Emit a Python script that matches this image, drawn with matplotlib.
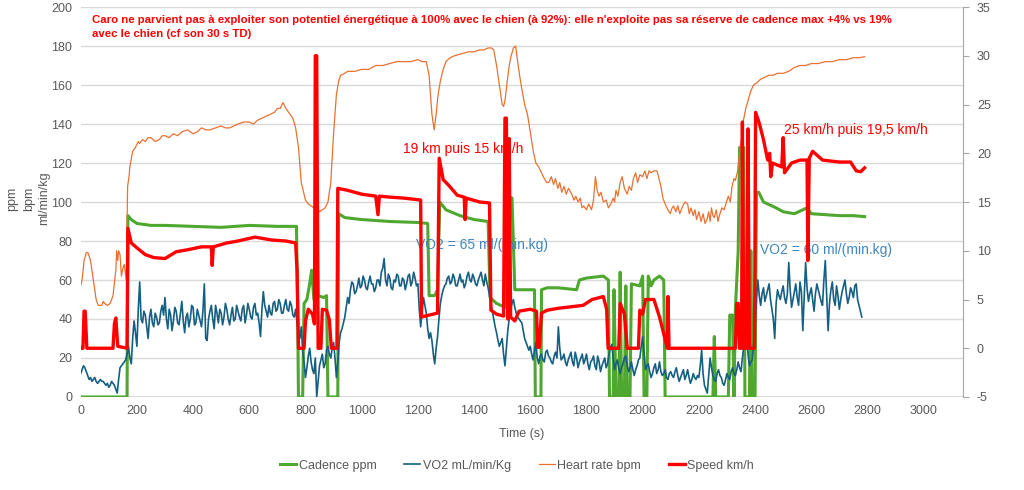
import numpy as np
import matplotlib
matplotlib.use("Agg")
import matplotlib.pyplot as plt

plt.rcParams['font.family'] = ['Liberation Sans', 'DejaVu Sans']
plt.rcParams['axes.unicode_minus'] = False

# Cadence ppm (time s, value)
cad_t = [0, 165, 168, 180, 200, 250, 300, 400, 500, 600, 700, 768, 772, 775, 790, 795, 805, 815, 822, 830, 838,
         840, 845, 865, 875, 880, 915, 918, 940, 1000, 1100, 1200, 1235, 1240, 1260, 1270, 1278, 1300, 1350,
         1400, 1450, 1457, 1480, 1510, 1517, 1525, 1535, 1545, 1565, 1600, 1615, 1618, 1638, 1640, 1660, 1700,
         1765, 1775, 1800, 1860, 1878, 1882, 1895, 1898, 1905, 1915, 1920, 1925, 1935, 1940, 1945, 1955, 1960,
         1990, 2000, 2005, 2015, 2020, 2030, 2040, 2060, 2075, 2080, 2250, 2255, 2260, 2305, 2310, 2320, 2325,
         2330, 2340, 2345, 2360, 2364, 2380, 2385, 2390, 2400, 2405, 2413, 2430, 2475, 2500, 2540, 2585, 2600,
         2650, 2700, 2750, 2790]
cad_v = [0, 0, 93, 91, 89, 88, 88, 87.5, 87, 88, 87.5, 87.5, 48, 0, 0, 48, 50, 58, 65, 50, 50,
         100, 52, 51, 52, 0, 0, 94, 92, 91, 90, 89.5, 89, 52, 52, 55, 100, 96, 93,
         91, 90, 51, 48, 46, 110, 103, 102, 55, 55, 55, 55, 0, 0, 55, 56, 56,
         55, 60, 61, 62, 60, 0, 0, 55, 0, 0, 64, 0, 0, 57, 0, 0, 58,
         57, 62, 0, 0, 62, 57, 60, 62, 60, 0, 0, 31, 0, 0, 42, 42, 0,
         45, 75, 128, 128, 0, 0, 75, 0, 0, 105, 105, 100, 97, 95, 94, 97, 94,
         93.5, 93, 93, 92.5]

# VO2 mL/min/Kg, one value every 5 s from 0 to 2780 s (one row = 100 s)
vo2_v = [12, 14, 16, 15, 13, 11, 9, 10, 8, 9, 10, 8, 7, 8, 9, 8, 8, 7, 6, 7,
         5, 6, 8, 7, 6, 4, 2, 9, 15, 16, 17, 18, 19, 22, 26, 20, 17, 30, 39, 33,
         26, 45, 59, 40, 38, 44, 42, 36, 30, 41, 45, 38, 36, 43, 41, 37, 38, 44, 47, 42,
         51, 40, 35, 45, 42, 34, 39, 46, 44, 38, 37, 43, 49, 39, 33, 41, 43, 36, 40, 47,
         46, 37, 38, 45, 42, 39, 36, 44, 58, 30, 29, 40, 44, 47, 40, 35, 47, 43, 38, 45,
         43, 37, 41, 48, 45, 40, 37, 42, 46, 39, 40, 47, 44, 41, 39, 45, 47, 38, 42, 48,
         45, 41, 40, 46, 48, 42, 43, 38, 31, 45, 54, 47, 44, 41, 47, 43, 42, 48, 49, 44,
         45, 50, 48, 43, 43, 47, 50, 45, 44, 49, 47, 42, 41, 45, 38, 32, 30, 36, 24, 18,
         10, 15, 21, 25, 18, 14, 12, 20, 0, 8, 16, 19, 22, 15, 17, 24, 26, 22, 20, 25,
         28, 20, 10, 18, 28, 33, 35, 38, 41, 46, 51, 48, 55, 59, 58, 53, 54, 57, 61, 56,
         57, 62, 60, 56, 55, 59, 62, 58, 58, 54, 56, 60, 60, 57, 64, 66, 71, 60, 57, 63,
         61, 56, 55, 60, 59, 63, 62, 57, 57, 61, 60, 55, 58, 62, 63, 57, 59, 64, 61, 57,
         58, 45, 36, 44, 51, 47, 43, 35, 30, 33, 29, 22, 17, 25, 31, 40, 48, 52, 55, 57,
         58, 61, 62, 58, 59, 63, 61, 57, 57, 60, 63, 59, 60, 56, 58, 62, 64, 60, 59, 63,
         61, 58, 57, 60, 62, 64, 60, 57, 63, 59, 56, 52, 48, 44, 40, 36, 33, 29, 26, 28,
         30, 22, 16, 25, 34, 40, 44, 48, 50, 46, 43, 41, 40, 39, 38, 34, 30, 28, 26, 24,
         26, 22, 19, 24, 28, 20, 17, 21, 22, 19, 18, 23, 24, 21, 20, 18, 17, 21, 23, 20,
         36, 25, 19, 20, 22, 18, 16, 19, 21, 23, 18, 16, 23, 20, 15, 18, 20, 22, 17, 19,
         22, 17, 14, 18, 19, 21, 16, 14, 21, 18, 13, 16, 18, 20, 15, 17, 22, 25, 27, 20,
         14, 17, 19, 15, 12, 15, 17, 20, 21, 16, 13, 15, 18, 14, 11, 14, 16, 19, 20, 26,
         31, 22, 14, 16, 17, 13, 10, 12, 15, 17, 12, 14, 18, 13, 11, 12, 14, 10, 9, 12,
         13, 11, 10, 13, 15, 11, 8, 10, 12, 14, 9, 11, 14, 10, 7, 9, 12, 10, 9, 11,
         10, 16, 24, 12, 6, 4, 2, 11, 20, 15, 11, 9, 8, 12, 14, 11, 10, 7, 6, 9,
         12, 10, 9, 13, 15, 12, 11, 14, 18, 15, 13, 20, 26, 28, 31, 22, 16, 18, 19, 27,
         35, 50, 60, 52, 47, 53, 56, 49, 52, 55, 58, 50, 45, 40, 30, 48, 55, 52, 50, 54,
         57, 51, 48, 53, 69, 55, 46, 50, 54, 58, 51, 47, 59, 54, 34, 52, 69, 56, 49, 53,
         56, 50, 44, 53, 58, 55, 52, 49, 47, 60, 70, 52, 34, 48, 55, 59, 50, 47, 57, 52,
         45, 50, 54, 57, 60, 53, 48, 51, 56, 54, 51, 57, 58, 50, 47, 44, 41]
vo2_t = np.arange(len(vo2_v)) * 5

# Heart rate bpm (time s, value)
hr_t = [0, 5, 12, 20, 26, 35, 45, 55, 62, 75, 80, 85, 95, 105, 115, 125, 128, 132, 135, 140, 145, 150, 155,
        162, 167, 172, 175, 180, 185, 195, 205, 210, 220, 230, 240, 250, 265, 280, 290, 300, 315, 330, 345,
        360, 380, 400, 415, 430, 445, 460, 480, 500, 515, 530, 545, 560, 580, 600, 615, 630, 645, 660, 675,
        690, 700, 710, 720, 730, 740, 755, 765, 775, 785, 800, 810, 820, 830, 840, 850, 860, 870, 880, 890,
        900, 910, 918, 925, 940, 950, 975, 1000, 1025, 1050, 1075, 1100, 1125, 1150, 1175, 1200, 1215, 1230,
        1240, 1250, 1258, 1265, 1272, 1280, 1290, 1300, 1315, 1330, 1355, 1380, 1400, 1420, 1435, 1450, 1462,
        1470, 1480, 1490, 1500, 1505, 1510, 1518, 1525, 1532, 1540, 1548, 1555, 1562, 1570, 1580, 1590, 1600,
        1612, 1620, 1630, 1640, 1650, 1658, 1666, 1675, 1683, 1690, 1698, 1705, 1712, 1720, 1728, 1736, 1748,
        1755, 1762, 1770, 1778, 1784, 1790, 1800, 1808, 1818, 1825, 1832, 1838, 1845, 1852, 1860, 1870, 1878,
        1887, 1895, 1900, 1905, 1912, 1920, 1927, 1935, 1945, 1952, 1960, 1967, 1975, 1982, 1990, 2000, 2008,
        2015, 2023, 2030, 2040, 2051, 2058, 2065, 2072, 2080, 2090, 2098, 2105, 2110, 2118, 2125, 2132, 2140,
        2150, 2160, 2166, 2172, 2180, 2186, 2192, 2200, 2208, 2215, 2222, 2229, 2235, 2240, 2245, 2250, 2255,
        2262, 2268, 2275, 2282, 2290, 2296, 2305, 2312, 2318, 2325, 2330, 2338, 2345, 2352, 2359, 2367, 2375,
        2385, 2395, 2405, 2420, 2435, 2450, 2465, 2480, 2500, 2520, 2540, 2560, 2580, 2600, 2625, 2650, 2675,
        2700, 2725, 2750, 2770, 2790]
hr_v = [57, 60, 70, 74, 74, 70, 60, 50, 47, 47, 49, 48, 47, 48, 52, 65, 75, 70, 75, 73, 62, 66, 68,
        60, 108, 113, 118, 122, 126, 128, 131, 130, 132, 131, 133, 133, 131, 132, 134, 134, 133, 135, 134,
        136, 137, 135, 136, 138, 137, 137, 138, 139, 138, 138, 139, 140, 141, 141, 140, 142, 143, 144, 145,
        146, 148, 148, 151, 148, 146, 143, 138, 128, 110, 101, 99, 98, 97, 97, 95, 96, 97, 100, 110,
        135, 155, 162, 165, 166, 167, 167, 168, 168, 170, 170, 171, 172, 172, 172, 173, 172, 172,
        165, 145, 137, 145, 155, 162, 168, 172, 174, 175, 176, 177, 177, 178, 178, 179, 179,
        178, 170, 160, 150, 149, 152, 162, 170, 175, 179, 180, 172, 165, 158, 150, 145, 136,
        125, 120, 118, 115, 112, 110, 110, 113, 109, 112, 107, 110, 105, 108, 104, 107, 104,
        101, 103, 100, 102, 97, 98, 96, 99, 96, 101, 113, 106, 103, 105, 100, 101, 97,
        99, 102, 100, 106, 103, 110, 113, 107, 104, 108, 106, 112, 115, 110, 114, 113, 116,
        112, 116, 115, 116, 116, 112, 108, 102, 99, 96, 94, 97, 98, 95, 98, 94, 97,
        100, 99, 94, 97, 93, 96, 91, 95, 90, 94, 89, 91, 95, 90, 97, 93, 92,
        96, 90, 94, 97, 96, 99, 103, 100, 108, 112, 111, 116, 125, 133, 142, 148, 152,
        157, 160, 161, 163, 164, 165, 165, 166, 166, 167, 169, 170, 170, 171, 171, 172, 172,
        173, 173, 174, 174, 174.5]

# Speed km/h (time s, value), right axis
spd_t = [0, 8, 12, 16, 22, 115, 120, 125, 132, 165, 168, 180, 200, 230, 260, 300, 340, 380, 430, 465, 468,
         472, 520, 560, 620, 680, 730, 765, 770, 775, 795, 800, 810, 825, 832, 835, 840, 845, 855, 860, 875,
         885, 892, 912, 915, 950, 1000, 1050, 1058, 1063, 1100, 1150, 1210, 1213, 1240, 1270, 1276, 1290,
         1310, 1340, 1365, 1368, 1372, 1420, 1455, 1460, 1480, 1505, 1510, 1515, 1520, 1525, 1530, 1545,
         1560, 1600, 1622, 1627, 1632, 1640, 1660, 1700, 1788, 1820, 1860, 1872, 1877, 1915, 1920, 1935,
         1945, 1985, 1990, 2000, 2010, 2040, 2060, 2088, 2090, 2094, 2330, 2335, 2340, 2345, 2352, 2355,
         2360, 2370, 2375, 2380, 2398, 2402, 2415, 2430, 2445, 2452, 2456, 2462, 2495, 2500, 2505, 2530,
         2560, 2585, 2588, 2593, 2605, 2640, 2700, 2740, 2760, 2776, 2790]
spd_v = [0, 0, 3.8, 3.8, 0, 0, 2.5, 3.1, 0.2, 0, 12.3, 10.8, 10.3, 9.6, 9.3, 9.2, 9.9, 10.1, 10.4, 10.4, 8.5,
         10.4, 10.8, 11, 11.4, 11.1, 11, 10.8, 8, 0, 0, 2.8, 4, 3.5, 2.5, 30, 30, 0, 0, 4, 3.9,
         2.9, 0, 0, 16.4, 16.2, 15.8, 15.6, 13.7, 15.6, 15.5, 15.4, 15.2, 3.2, 3.4, 3.6, 19.5, 17.3,
         16.7, 15.7, 15.5, 13.2, 15.4, 15.0, 14.9, 3.9, 3.5, 3.3, 23.6, 23.6, 3, 21.5, 3.2, 2.8,
         3.8, 4, 3.8, 0.1, 0.1, 3.6, 3.9, 4.1, 4.4, 5, 5.3, 4, 0, 0, 4.6, 3.5,
         0, 0, 3.9, 3.5, 5, 5, 3.2, 0, 5.3, 0, 0, 4.6, 4.6, 0, 0, 23.2,
         0, 0, 22.5, 0, 0, 24.2, 23.1, 21.4, 19.3, 20, 17.6, 19, 18.6, 21.6, 18, 19,
         19.3, 19.3, 9, 19.5, 20.2, 19.3, 19.1, 19.1, 18.2, 18.1, 18.5]

title_txt = ("Caro ne parvient pas à exploiter son potentiel énergétique à 100% avec le chien (à 92%): "
             "elle n'exploite pas sa réserve de cadence max +4% vs 19%\navec le chien (cf son 30 s TD)")

grey = "#595959"
fig = plt.figure(figsize=(10.24, 4.9), dpi=100)
ax = fig.add_axes([0.0788, 0.1898, 0.8616, 0.7959])
ax2 = ax.twinx()

l1, = ax.plot(cad_t, cad_v, color="#4ea72e", lw=2.2, label="Cadence ppm")
l2, = ax.plot(vo2_t, vo2_v, color="#156082", lw=1.2, label="VO2 mL/min/Kg")
l3, = ax.plot(hr_t, hr_v, color="#e97132", lw=0.9, label="Heart rate bpm")
l4, = ax2.plot(spd_t, spd_v, color="#ff0000", lw=2.4, label="Speed km/h")

ax.set_xlim(0, 3140)
ax.set_ylim(0, 200)
ax2.set_ylim(-5, 35)
ax.set_xticks(np.arange(0, 3001, 200))
ax.set_yticks(np.arange(0, 201, 20))
ax2.set_yticks(np.arange(-5, 36, 5))
ax.grid(axis="y", color="#d9d9d9", lw=1)
ax.set_axisbelow(True)
for s in ["top", "left", "right", "bottom"]:
    ax.spines[s].set_visible(False)
    ax2.spines[s].set_visible(False)
ax2.spines["right"].set_visible(True)
ax2.spines["right"].set_color("#a6a6a6")
ax.tick_params(axis="both", length=0, labelsize=9, colors=grey, pad=6)
ax2.tick_params(axis="y", length=4, color="#a6a6a6", labelsize=9, labelcolor=grey, pad=6)
ax.axhline(0, color="#d9d9d9", lw=1.5, zorder=0)

ax.set_xlabel("Time (s)", fontsize=9, color=grey, labelpad=8)
for xp, lab in [(0.012, "ppm"), (0.028, "bpm"), (0.043, "ml/min/kg")]:
    fig.text(xp, 0.595, lab, rotation=90, ha="center", va="center", fontsize=9, color=grey)

ax.text(92 / 1024, 0.985 - 8 / 490, title_txt, transform=fig.transFigure, fontsize=8.2, fontweight="bold",
        color="#ff0000", va="top", ha="left", linespacing=1.5)
ax.text(1147, 127, "19 km puis 15 km/h", color="#ff0000", fontsize=10, va="center")
ax.text(2503, 137, "25 km/h puis 19,5 km/h", color="#ff0000", fontsize=10, va="center")
ax.text(1194, 78, "VO2 = 65 ml/(min.kg)", color="#3f86c0", fontsize=10, va="center")
ax.text(2418, 75.5, "VO2 = 60 ml/(min.kg)", color="#3f86c0", fontsize=10, va="center")

fig.legend(handles=[l1, l2, l3, l4], loc="center", bbox_to_anchor=(0.505, 0.05), ncol=4, frameon=False,
           fontsize=9, handlelength=1.3, handletextpad=0.2, columnspacing=2.2, labelcolor=grey)

fig.savefig("out.png", dpi=100)
